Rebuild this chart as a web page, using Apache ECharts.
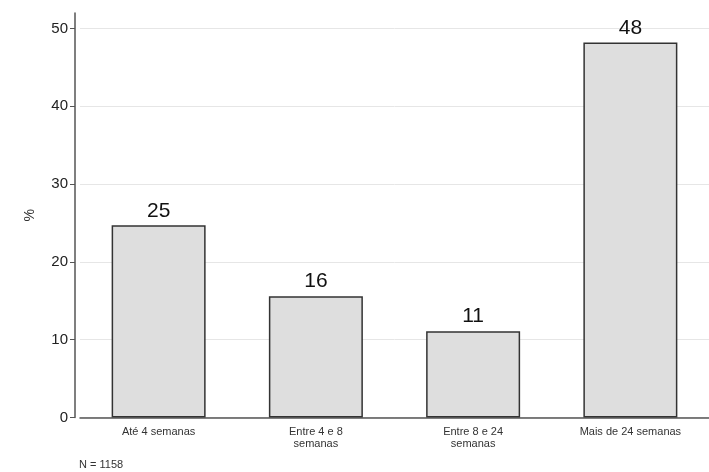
<!DOCTYPE html>
<html><head><meta charset="utf-8">
<script src="https://cdn.jsdelivr.net/npm/echarts@6/dist/echarts.min.js"></script>
<style>html,body{margin:0;padding:0;background:#fff}#c{width:709px;height:472px}</style>
</head><body><div id="c"></div>
<script>
const categories = ['Até 4 semanas', 'Entre 4 e 8\nsemanas', 'Entre 8 e 24\nsemanas', 'Mais de 24 semanas'];
const values = [24.7, 15.6, 11.1, 48.2];
const yTicks = [0, 10, 20, 30, 40, 50];
const note = 'N = 1158';

const chart = echarts.init(document.getElementById('c'), null, {renderer: 'canvas'});
chart.setOption({
  animation: false,
  backgroundColor: '#fff',
  textStyle: {fontFamily: 'Arial, "Liberation Sans", sans-serif'},
  grid: {left: 80, right: -4, top: 13, bottom: 54.5, containLabel: false},
  xAxis: {
    type: 'category', data: categories,
    axisLine: {lineStyle: {color: '#555', width: 1.5}},
    axisTick: {show: false},
    axisLabel: {color: '#333', fontSize: 11, margin: 8, lineHeight: 12, interval: 0}
  },
  yAxis: {
    type: 'value', min: 0, max: 52, interval: 10, offset: 5,
    name: '%', nameLocation: 'middle', nameGap: 38, nameRotate: 90,
    nameTextStyle: {color: '#333', fontSize: 14},
    axisLine: {show: true, lineStyle: {color: '#555', width: 1.5}},
    axisTick: {show: true, length: 5, lineStyle: {color: '#555'}},
    axisLabel: {color: '#222', fontSize: 15, margin: 7, showMaxLabel: false,
      formatter: v => yTicks.includes(v) ? String(v) : ''},
    splitLine: {show: true, showMaxLine: false, lineStyle: {color: '#e6e6e6', width: 1}}
  },
  series: [{
    type: 'bar', data: values, barWidth: 94,
    itemStyle: {color: '#dedede', borderColor: '#333', borderWidth: 1.5},
    label: {show: true, position: 'top', distance: 4, color: '#111', fontSize: 21,
      formatter: p => String(Math.round(p.value))}
  }],
  graphic: [{type: 'text', left: 79, top: 459, style: {text: note, fill: '#333', fontSize: 11, fontFamily: 'Arial, "Liberation Sans", sans-serif'}}]
});
</script></body></html>
